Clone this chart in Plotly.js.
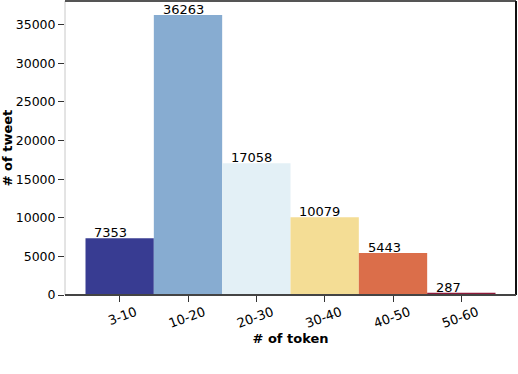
<!DOCTYPE html>
<html>
<head>
<meta charset="utf-8">
<script src="https://cdn.plot.ly/plotly-3.0.1.min.js"></script>
<style>html,body{margin:0;padding:0;background:#fff;}#chart{width:518px;height:374px;}</style>
</head>
<body>
<div id="chart"></div>
<script>
const categories = ["3-10", "10-20", "20-30", "30-40", "40-50", "50-60"];
const tweetCounts = [7353, 36263, 17058, 10079, 5443, 287];
const barColors = ["#383c92", "#87acd1", "#e3f0f6", "#f4dd95", "#db6e4a", "#8e1a3a"];
const yTickValues = [0, 5000, 10000, 15000, 20000, 25000, 30000, 35000];

const xIdx = categories.map((c, i) => i);

const trace = {
  type: "bar",
  x: xIdx,
  y: tweetCounts,
  width: 1,
  marker: {color: barColors, line: {width: 0}},
  hoverinfo: "none"
};

const annotations = tweetCounts.map((v, i) => ({
  x: i - 0.4, y: v, xref: "x", yref: "y",
  text: String(v), showarrow: false,
  xanchor: "left", yanchor: "bottom", yshift: -4,
  font: {family: "DejaVu Sans", size: 13, color: "#000"}
}));

const spines = [
  {type: "line", xref: "paper", yref: "paper", x0: 0, x1: 0, y0: 0, y1: 1, line: {color: "#c8c8c8", width: 1}},
  {type: "line", xref: "paper", yref: "paper", x0: 0, x1: 1, y0: 1, y1: 1, line: {color: "#555", width: 2}},
  {type: "line", xref: "paper", yref: "paper", x0: 1, x1: 1, y0: 0, y1: 1, line: {color: "#111", width: 2}},
  {type: "line", xref: "paper", yref: "paper", x0: 0, x1: 1, y0: 0, y1: 0, line: {color: "#444", width: 2}}
];

const layout = {
  width: 518, height: 374,
  margin: {l: 65, r: 2, t: 1, b: 79},
  paper_bgcolor: "#fff", plot_bgcolor: "#fff",
  showlegend: false,
  font: {family: "DejaVu Sans", color: "#000"},
  xaxis: {
    range: [-0.8, 5.8],
    tickvals: xIdx, ticktext: categories,
    tickangle: -20,
    ticklabelshift: 16,
    ticklabelstandoff: -2,
    ticks: "outside", ticklen: 6, tickcolor: "#333", tickwidth: 1,
    showgrid: false, zeroline: false, showline: false,
    tickfont: {family: "DejaVu Sans", size: 13, color: "#000"},
    title: {text: "<b># of token</b>", font: {family: "DejaVu Sans", size: 13, color: "#000"}, standoff: 1}
  },
  yaxis: {
    range: [0, 38076],
    tickvals: yTickValues, ticktext: yTickValues.map(String),
    ticks: "outside", ticklen: 6, tickcolor: "#333", tickwidth: 1,
    showgrid: false, zeroline: false, showline: false,
    tickfont: {family: "DejaVu Sans", size: 12.5, color: "#000"},
    title: {text: "<b># of tweet</b>", font: {family: "DejaVu Sans", size: 13, color: "#000"}, standoff: 4}
  },
  annotations: annotations,
  shapes: spines
};

Plotly.newPlot("chart", [trace], layout, {displayModeBar: false, staticPlot: true});
</script>
</body>
</html>
